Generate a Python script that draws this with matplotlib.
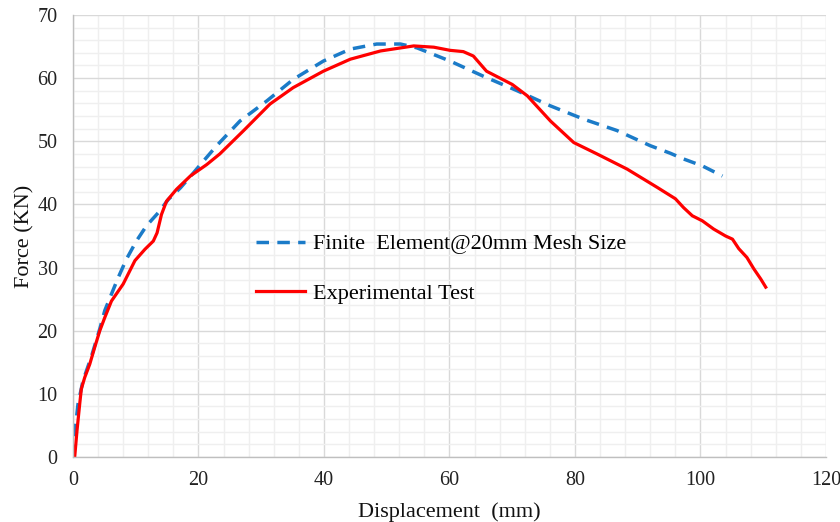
import matplotlib.pyplot as plt
from matplotlib.ticker import MultipleLocator

# Finite element curve (20 mm mesh)
fe_disp = [0, 0.27, 0.8, 1.6, 2.9, 4.27, 5.07, 6.13, 7.2, 8.5, 10.1, 11.7, 13.6,
           15.2, 17.1, 19.2, 20.3, 22.9, 26.6, 30.9, 35.1, 39.9, 44.2, 48.4,
           52.2, 54.8, 60.1, 65.4, 70.8, 76.1, 81.4, 86.7, 92.0, 95.2, 97.3,
           100.3, 103.5]
fe_force = [0, 3.7, 8.4, 12.1, 15.8, 20.3, 23.2, 25.8, 28.4, 31.3, 34.2, 36.6, 38.7,
            40.8, 42.6, 45.0, 46.3, 49.3, 53.2, 56.4, 59.8, 62.7, 64.6, 65.4,
            65.4, 64.8, 62.7, 60.3, 58.0, 55.6, 53.5, 51.7, 49.3, 48.1, 47.2,
            46.1, 44.5]

# Experimental test curve
exp_disp = [0.27, 0.64, 1.07, 1.33, 1.87, 2.67, 3.47, 4.27, 5.07, 6.13, 8.0, 9.87,
            11.47, 12.8, 13.4, 14.1, 14.9, 16.5, 18.7, 21.3, 23.4, 27.2, 31.4,
            35.1, 39.9, 44.2, 49.0, 54.3, 57.5, 60.1, 62.2, 63.8, 65.9, 70.0,
            72.4, 76.1, 79.8, 83.5, 88.3, 93.1, 96.0, 97.3, 98.7, 100.3, 102.1,
            104.0, 105.1, 106.1, 107.4, 108.5, 109.6, 110.4]
exp_force = [0, 4.2, 8.4, 10.8, 12.6, 14.7, 17.4, 20.0, 22.1, 24.7, 27.4, 31.1,
             32.9, 34.2, 35.5, 38.4, 40.5, 42.4, 44.5, 46.3, 48.0, 51.7, 55.9,
             58.5, 61.1, 63.0, 64.3, 65.1, 64.9, 64.4, 64.2, 63.5, 61.1, 59.0,
             57.2, 53.2, 49.8, 48.0, 45.6, 42.7, 40.9, 39.5, 38.2, 37.4, 36.1,
             35.0, 34.5, 33.0, 31.6, 29.8, 28.2, 26.9]

plt.rcParams['font.family'] = ['Liberation Serif', 'DejaVu Serif']

fig = plt.figure(figsize=(8.4, 5.22), dpi=100)
ax = fig.add_axes([0.0869, 0.1245, 0.8964, 0.8468])

ax.plot(fe_disp, fe_force, color='#1b7bc8', lw=2.5, ls=(0, (3.6, 2.4)),
        label='Finite  Element@20mm Mesh Size')
ax.plot(exp_disp, exp_force, color='#ff0000', lw=2.3,
        label='Experimental Test')

ax.set_xlim(0, 120)
ax.set_ylim(0, 70)
ax.xaxis.set_major_locator(MultipleLocator(20))
ax.yaxis.set_major_locator(MultipleLocator(10))
ax.xaxis.set_minor_locator(MultipleLocator(4))
ax.yaxis.set_minor_locator(MultipleLocator(2))
ax.grid(which='major', color='#d9d9d9', lw=1.0)
ax.grid(which='minor', color='#efefef', lw=1.0)
ax.set_axisbelow(True)

for s in ['top', 'right']:
    ax.spines[s].set_visible(False)
for s in ['left', 'bottom']:
    ax.spines[s].set_color('#bfbfbf')
    ax.spines[s].set_linewidth(1.0)

ax.tick_params(which='both', length=0, labelsize=14.5, colors='#222222', pad=10)
ax.tick_params(axis='y', pad=11)

ax.set_xlabel('Displacement  (mm)', fontsize=16, color='#111111', labelpad=9)
ax.set_ylabel('Force (KN)', fontsize=16, color='#111111', labelpad=2)

ax.legend(loc='upper left', bbox_to_anchor=(0.243, 0.505), frameon=False,
          fontsize=16, handlelength=2.2, handletextpad=0.35,
          labelspacing=1.3, borderpad=0, borderaxespad=0)

fig.savefig('out.png', dpi=100)
